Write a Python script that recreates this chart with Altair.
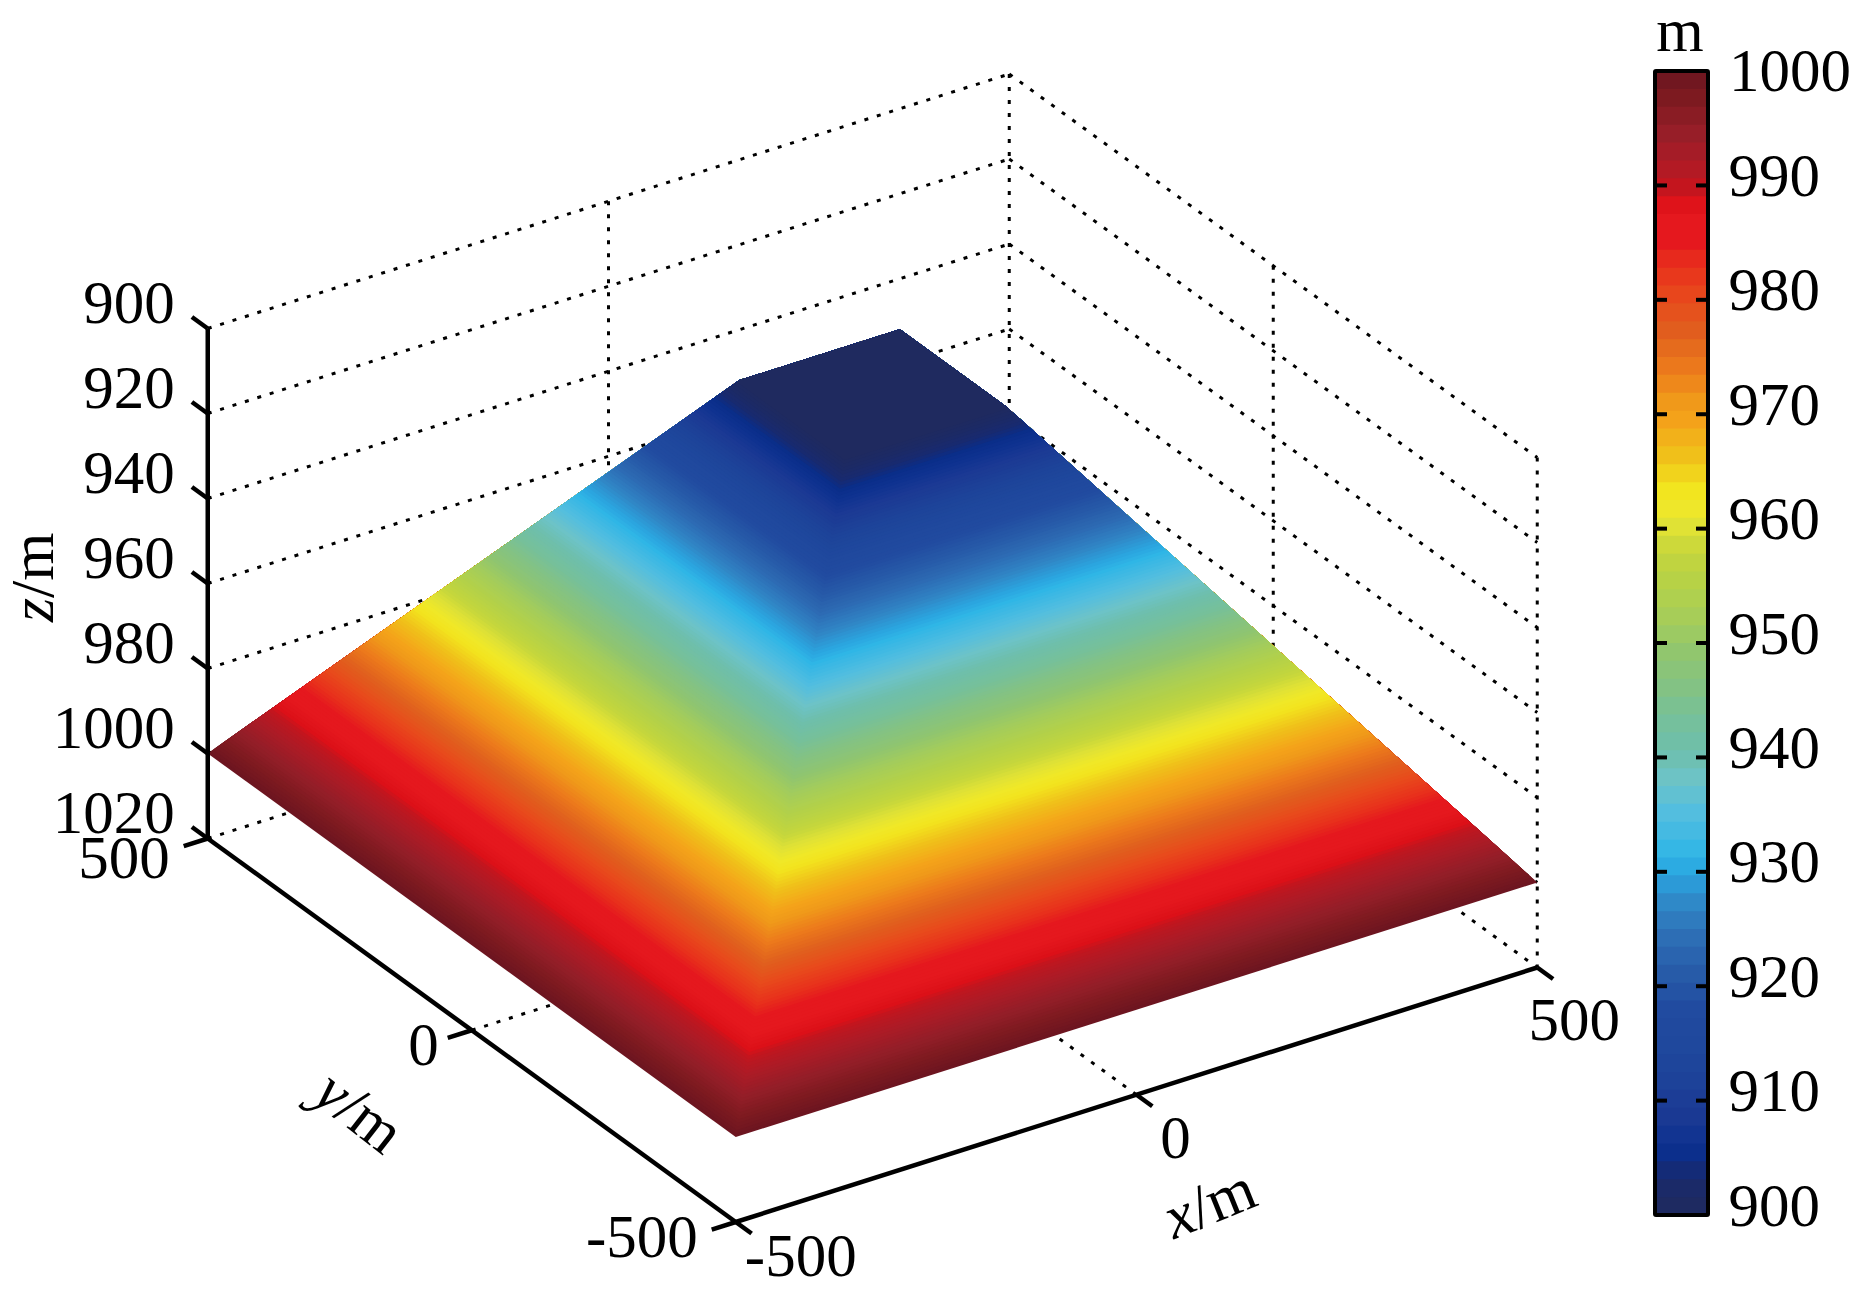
import math
import altair as alt
import numpy as np
import pandas as pd

FONT = "Liberation Serif"
LABEL_SIZE = 61
TITLE_SIZE = 62

# ---- values -----------------------------------------------------------
z_ticks = [900, 920, 940, 960, 980, 1000, 1020]
y_ticks = [500, 0, -500]
x_ticks = [-500, 0, 500]
cbar_ticks = [900, 910, 920, 930, 940, 950, 960, 970, 980, 990]
surface_levels = [
    900.00, 901.56, 903.13, 904.69, 906.25, 907.81, 909.38, 910.94,
    912.50, 914.06, 915.63, 917.19, 918.75, 920.31, 921.88, 923.44,
    925.00, 926.56, 928.13, 929.69, 931.25, 932.81, 934.38, 935.94,
    937.50, 939.06, 940.63, 942.19, 943.75, 945.31, 946.88, 948.44,
    950.00, 951.56, 953.13, 954.69, 956.25, 957.81, 959.38, 960.94,
    962.50, 964.06, 965.63, 967.19, 968.75, 970.31, 971.88, 973.44,
    975.00, 976.56, 978.13, 979.69, 981.25, 982.81, 984.38, 985.94,
    987.50, 989.06, 990.63, 992.19, 993.75, 995.31, 996.88, 998.44, 1000.00,
]
color_stops = [900, 902, 903.5, 905, 906.5, 909, 912, 915, 918, 921, 924, 927, 928.5, 930,
               931.5, 933, 935, 938, 940.5, 943.5, 946, 949, 952, 955, 958, 960, 962, 963.5,
               966.5, 969.5, 971, 974, 977, 980, 983, 985, 987, 989, 990, 992, 995, 997.5, 1000]
color_values = ["#1f2a5e", "#1c2a66", "#182a70", "#0a2e8a", "#0f3290", "#1c3a94", "#1d4399",
                "#1f489d", "#214ba0", "#275aa8", "#2d6cb4", "#3085c5", "#2d96d3", "#2ba6e0",
                "#2fb6e6", "#3fb9e3", "#52bee0", "#6dc3c8", "#6ebfac", "#76c09a", "#83c285",
                "#8fc570", "#a5cd5a", "#b4d148", "#c5d63c", "#dfe136", "#f0e828", "#f2e41e",
                "#f0bf1a", "#f4a21a", "#f09a1a", "#ec7a1c", "#e0601e", "#e84a1c", "#e8301c",
                "#e5181e", "#e5181e", "#dc1018", "#c0161f", "#ad1b26", "#931e28", "#7e1a20",
                "#6b1520"]
# colour-bar value seen on the surface at a given height
surface_heights = [900, 905, 930, 960, 982, 1000]
surface_colour_at = [900, 905, 931, 962.5, 984.5, 1000]
SUBSTEPS = 3
PLATEAU_HALF = 100
BASE_HALF = 500
PLATEAU_Z = 900
BASE_Z = 1000

# ---- view of the box: figure position of a point (x, y, z) in metres ----
ORIGIN = (872.5, 903.0)
EX = (0.8015, -0.2545)
EY = (-0.528, -0.3835)
Z_PX = 4.25
Z_FLOOR = 1020


def view(x, y, z):
    return (ORIGIN[0] + x * EX[0] + y * EY[0],
            ORIGIN[1] + x * EX[1] + y * EY[1] - (Z_FLOOR - z) * Z_PX)


def seg(p, q):
    a, b = view(*p), view(*q)
    return dict(x=a[0], y=a[1], x2=b[0], y2=b[1])


dotted = []
for z in z_ticks:
    dotted.append(seg((-500, 500, z), (500, 500, z)))
    dotted.append(seg((500, 500, z), (500, -500, z)))
dotted += [seg((500, 500, 900), (500, 500, 1020)),
           seg((0, 500, 900), (0, 500, 1020)),
           seg((500, 0, 900), (500, 0, 1020)),
           seg((500, -500, 900), (500, -500, 1020)),
           seg((-500, 0, 1020), (500, 0, 1020)),
           seg((0, -500, 1020), (0, 500, 1020))]

solid = [seg((-500, 500, 900), (-500, 500, 1020)),
         seg((-500, 500, 1020), (-500, -500, 1020)),
         seg((-500, -500, 1020), (500, -500, 1020))]
for z in z_ticks:
    solid.append(seg((-500, 500, z), (-500, 530, z)))
for y in y_ticks:
    solid.append(seg((-500, y, 1020), (-530, y, 1020)))
for x in x_ticks:
    solid.append(seg((x, -500, 1020), (x, -530, 1020)))

# nested level regions, painted from the outermost to the innermost
poly = []
bands = list(zip(surface_levels[:-1], surface_levels[1:]))
level_id = 0
for low, high in reversed(bands):
    for s in range(SUBSTEPS, 0, -1):
        top = low + (high - low) * s / SUBSTEPS
        centre = low + (high - low) * (s - 0.5) / SUBSTEPS
        h = PLATEAU_HALF + (top - PLATEAU_Z) * (BASE_HALF - PLATEAU_HALF) / (BASE_Z - PLATEAU_Z)
        ring = [(-h, h, top), (-h, -h, top), (h, -h, top),
                (PLATEAU_HALF, -PLATEAU_HALF, PLATEAU_Z),
                (PLATEAU_HALF, PLATEAU_HALF, PLATEAU_Z),
                (-PLATEAU_HALF, PLATEAU_HALF, PLATEAU_Z),
                (-h, h, top)]
        shade = float(np.interp(centre, surface_heights, surface_colour_at))
        for i, p in enumerate(ring):
            px, py = view(*p)
            poly.append(dict(level=level_id, mid=shade, vertex=i, x=px, y=py))
        level_id += 1

# labels
texts = []
for z in z_ticks:
    px, py = view(-500, 500, z)
    texts.append(dict(t=str(z), x=px - 33, y=py - 23.5, align="right"))
for y, dx, dy in zip(y_ticks, [-38, -33, -38], [21, 17, 17]):
    px, py = view(-500, y, 1020)
    texts.append(dict(t=str(y), x=px + dx, y=py + dy, align="right"))
for x, dx, dy in zip(x_ticks, [65, 39, 37], [36, 45, 54]):
    px, py = view(x, -500, 1020)
    texts.append(dict(t=str(x), x=px + dx, y=py + dy, align="center"))
texts.append(dict(t="1000", x=1729, y=73, align="left"))

# ---- shared scales ------------------------------------------------------
W, H = 1842, 1284
xs = alt.Scale(domain=[8, 1850], nice=False, zero=False)
ys = alt.Scale(domain=[1292, 8], nice=False, zero=False)
cs = alt.Scale(domain=color_stops, range=color_values, interpolate="rgb")
X = alt.X("x:Q", scale=xs, axis=None)
Y = alt.Y("y:Q", scale=ys, axis=None)

dot_layer = alt.Chart(pd.DataFrame(dotted)).mark_rule(
    color="black", strokeWidth=3, strokeDash=[4, 9]).encode(x=X, y=Y, x2="x2:Q", y2="y2:Q")

surface = alt.Chart(pd.DataFrame(poly)).mark_line(strokeWidth=0, interpolate="linear").encode(
    x=X, y=Y,
    fill=alt.Fill("mid:Q", scale=cs, legend=None),
    detail="level:O",
    order=alt.Order("vertex:Q"),
)

solid_layer = alt.Chart(pd.DataFrame(solid)).mark_rule(
    color="black", strokeWidth=4.5).encode(x=X, y=Y, x2="x2:Q", y2="y2:Q")


def text_layer(rows, align, **kw):
    return alt.Chart(pd.DataFrame(rows)).mark_text(
        font=FONT, color="black", align=align, baseline="middle", **kw
    ).encode(x=X, y=Y, text="t:N")


tick_labels = [
    text_layer([r for r in texts if r["align"] == a], a, fontSize=LABEL_SIZE)
    for a in ("left", "right", "center")
]


def composite(first, start_x, start_y, angle, first_w):
    """italic letter followed by the upright /m, running along a rotated baseline"""
    u = (math.cos(math.radians(angle)), math.sin(math.radians(angle)))
    a = text_layer([dict(t=first, x=start_x, y=start_y)], "left",
                   fontSize=TITLE_SIZE, fontStyle="italic", angle=angle % 360)
    b = text_layer([dict(t="/m", x=start_x + u[0] * first_w * TITLE_SIZE,
                         y=start_y + u[1] * first_w * TITLE_SIZE)], "left",
                   fontSize=TITLE_SIZE, angle=angle % 360)
    return [a, b]


titles = (composite("z", 34, 622, -90, 0.389)
          + composite("y", 322, 1084, 38, 0.444)
          + composite("x", 1167, 1222, -22, 0.444))

unit = alt.Chart(pd.DataFrame([dict(t="m", x=1680, y=33)])).mark_text(
    font=FONT, fontSize=LABEL_SIZE, color="black", align="center", baseline="middle"
).encode(x=X, y=Y, text="t:N")

# ---- colour bar: its own value axis ------------------------------------
CB_L, CB_R = 1655, 1708
# 1000 m sits at figure y = 71 and 900 m at y = 1215
cb_y = alt.Scale(domain=[893.27, 1005.51], nice=False, zero=False)
cb_rows = pd.DataFrame([dict(low=l, top=1000, mid=(l + h) / 2, x=CB_L, x2=CB_R) for l, h in bands])
cb = alt.Chart(cb_rows).mark_rect().encode(
    x=X, x2="x2:Q",
    y=alt.Y("low:Q", scale=cb_y,
            axis=alt.Axis(orient="right", values=cbar_ticks, offset=-122, domain=False,
                          ticks=False, grid=False, title=None, labelFont=FONT,
                          labelFontSize=LABEL_SIZE, labelColor="black", labelPadding=0,
                          labelOffset=-8, labelOverlap=False, labelBound=False,
                          labelFlush=False, format="d")),
    y2="top:Q",
    fill=alt.Fill("mid:Q", scale=cs, legend=None),
    order=alt.Order("low:Q"),
)
cb_tick_rows = []
for v in cbar_ticks[1:]:
    cb_tick_rows.append(dict(z=v, x=CB_L, x2=CB_L + 12))
    cb_tick_rows.append(dict(z=v, x=CB_R - 12, x2=CB_R))
cb_ticks = alt.Chart(pd.DataFrame(cb_tick_rows)).mark_rule(color="black", strokeWidth=4).encode(
    x=X, x2="x2:Q", y=alt.Y("z:Q", scale=cb_y, axis=None))
cb_frame = alt.Chart(pd.DataFrame([dict(a=900, b=1000, x=CB_L, x2=CB_R)])).mark_rect(
    fillOpacity=0, stroke="black", strokeWidth=4, cornerRadius=1).encode(
    x=X, x2="x2:Q", y=alt.Y("a:Q", scale=cb_y, axis=None), y2="b:Q")

chart = alt.layer(
    dot_layer, surface, solid_layer, *tick_labels, *titles, unit, cb, cb_ticks, cb_frame
).resolve_scale(y="independent").properties(
    width=W, height=H, padding=0, autosize=alt.AutoSizeParams(type="none"), background="white"
).configure_view(stroke=None)

chart.save("out.html", embed_options={"renderer": "svg", "actions": False})
